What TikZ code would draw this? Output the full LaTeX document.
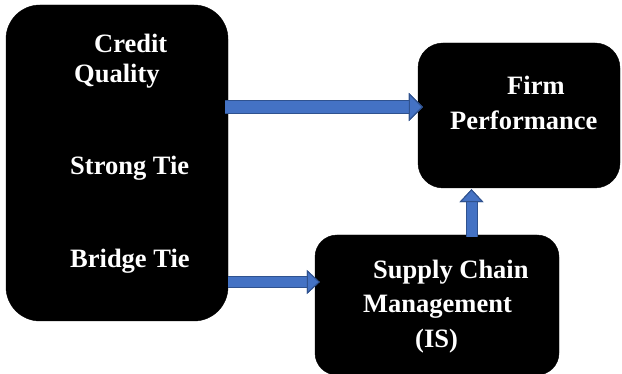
\documentclass[tikz,border=0pt]{standalone}
\usepackage{fontspec}
\setmainfont{Liberation Serif}
\usetikzlibrary{arrows.meta}
\definecolor{arrowblue}{HTML}{4472C4}
\definecolor{arrowedge}{HTML}{2F528F}
\begin{document}
\begin{tikzpicture}[x=1pt,y=-1pt]

			\tikzstyle{block}=[fill=black,draw=black,inner sep=0pt]
			\tikzstyle{words}=[text=white,inner sep=0pt,anchor=base west,
				font=\fontsize{26.5}{30}\selectfont\bfseries]
			\tikzstyle{flow}=[arrowblue,line width=10pt,
				-{Triangle[width=24pt,length=13pt,line width=1pt,fill=arrowblue,color=arrowedge]},
				preaction={draw=arrowedge,line width=12pt}]
			\tikzstyle{bigflow}=[flow,line width=12.5pt,
				-{Triangle[width=28pt,length=14pt,line width=1pt,fill=arrowblue,color=arrowedge]},
				preaction={draw=arrowedge,line width=14.5pt}]

			\useasboundingbox (0,0) rectangle (622,374);

			\node[block,rounded corners=34pt,minimum width=222pt,minimum height=316pt]
				(in)	at (117,163)	{};
			\node[block,rounded corners=25pt,minimum width=202pt,minimum height=145pt]
				(fp)	at (519,115.5)	{};
			\node[block,rounded corners=22pt,minimum width=244pt,minimum height=140pt]
				(scm)	at (437,305)	{};

			\node[words]	(cq1)	at (94,53)	{Credit};
			\node[words]	(cq2)	at (74,83)	{Quality};
			\node[words]	(st)	at (70,175)	{Strong Tie};
			\node[words]	(bt)	at (70,268)	{Bridge Tie};
			\node[words]	(fp1)	at (507,95)	{Firm};
			\node[words]	(fp2)	at (450,130)	{Performance};
			\node[words]	(scm1)	at (373,279)	{Supply Chain};
			\node[words]	(scm2)	at (363,313)	{Management};
			\node[words]	(scm3)	at (415,348)	{(IS)};

			\coordinate (a1) at ([yshift=8.5pt]fp.west);
			\coordinate (a2) at ([yshift=23pt]scm.west);
			\coordinate (a3) at ([xshift=-47.5pt]fp.south);

			\draw[bigflow]
				([xshift=-3pt]in.east |- a1) -- ([xshift=5pt]a1);
			\draw[flow]
				(in.east |- a2) -- ([xshift=5pt]a2);
			\draw[flow]
				([yshift=-2pt]a3 |- scm.north) -- ([yshift=-1pt]a3);

			\end{tikzpicture}
\end{document}
